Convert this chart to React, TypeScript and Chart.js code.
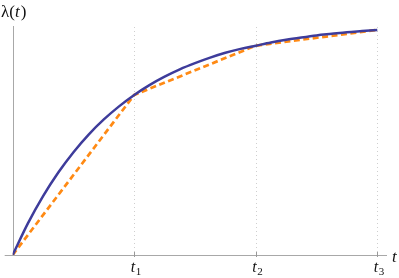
import React, { useEffect, useRef } from "react";
import { Chart, registerables } from "chart.js";

Chart.register(...registerables);

// t in units of the knot spacing (t1 = 1, t2 = 2, t3 = 3)
const curveT = [0, 0.125, 0.25, 0.375, 0.5, 0.625, 0.75, 0.875, 1, 1.125, 1.25, 1.375, 1.5, 1.625, 1.75, 1.875, 2, 2.125, 2.25, 2.375, 2.5, 2.625, 2.75, 2.875, 3];
const curveLambda = [0, 0.138, 0.257, 0.36, 0.449, 0.526, 0.592, 0.649, 0.699, 0.742, 0.779, 0.811, 0.838, 0.862, 0.883, 0.9, 0.914, 0.928, 0.94, 0.95, 0.959, 0.966, 0.973, 0.978, 0.983];
const knotT = [0, 1, 2, 3];
const knotLambda = [0, 0.699, 0.914, 0.983];
const tickValues = [1, 2, 3];
const tickSubs = ["1", "2", "3"];
const yAxisTitle = ["λ(", "t", ")"];
const xAxisTitle = "t";

const BLUE = "rgb(62,60,155)";
const ORANGE = "rgb(255,138,20)";
const AXIS = "#a8a8a8";
const SERIF = "'Liberation Serif', 'Times New Roman', Times, 'DejaVu Serif', serif";

const axesPlugin = {
  id: "mathAxes",
  beforeDatasetsDraw(chart: any) {
    const ctx = chart.ctx;
    const xs = chart.scales.x;
    const ys = chart.scales.y;
    const x0 = xs.getPixelForValue(0);
    const y0 = ys.getPixelForValue(0);
    const yTop = ys.getPixelForValue(1);
    ctx.save();
    // dotted verticals
    ctx.strokeStyle = "#cfcfcf";
    ctx.lineWidth = 1;
    ctx.setLineDash([1, 3]);
    tickValues.forEach((v) => {
      const px = Math.round(xs.getPixelForValue(v)) + 0.5;
      ctx.beginPath();
      ctx.moveTo(px, yTop + 1);
      ctx.lineTo(px, y0);
      ctx.stroke();
    });
    ctx.setLineDash([]);
    // axes
    ctx.strokeStyle = AXIS;
    ctx.beginPath();
    ctx.moveTo(Math.round(x0) + 0.5, yTop);
    ctx.lineTo(Math.round(x0) + 0.5, y0);
    ctx.stroke();
    ctx.beginPath();
    ctx.moveTo(chart.chartArea.left - 8, Math.round(y0) + 0.5);
    ctx.lineTo(chart.chartArea.right, Math.round(y0) + 0.5);
    ctx.stroke();
    // tick marks
    ctx.strokeStyle = "#999";
    tickValues.forEach((v) => {
      const px = Math.round(xs.getPixelForValue(v)) + 0.5;
      ctx.beginPath();
      ctx.moveTo(px, y0 - 3);
      ctx.lineTo(px, y0 + 2);
      ctx.stroke();
    });
    // tick labels
    ctx.fillStyle = "#111";
    ctx.textBaseline = "alphabetic";
    ctx.textAlign = "left";
    tickValues.forEach((v, i) => {
      const px = xs.getPixelForValue(v);
      ctx.font = `italic 16px ${SERIF}`;
      const wt = ctx.measureText("t").width;
      ctx.fillText("t", px - wt + 1, y0 + 17);
      ctx.font = `11px ${SERIF}`;
      ctx.fillText(tickSubs[i], px + 1.5, y0 + 20);
    });
    // y title
    let cx = 1;
    yAxisTitle.forEach((p, i) => {
      ctx.font = i === 1 ? `italic 17px ${SERIF}` : `17px ${SERIF}`;
      ctx.fillText(p, cx, 17);
      cx += ctx.measureText(p).width + (i === 1 ? 1 : 0);
    });
    // x title
    ctx.font = `italic 17px ${SERIF}`;
    ctx.fillText(xAxisTitle, chart.chartArea.right + 5, y0 + 7);
    ctx.restore();
  },
};

export default function App() {
  const ref = useRef<HTMLCanvasElement>(null);
  useEffect(() => {
    document.body.style.margin = "0";
    const chart = new Chart(ref.current!, {
      type: "scatter",
      data: {
        datasets: [
          {
            data: curveT.map((t, i) => ({ x: t, y: curveLambda[i] })),
            showLine: true,
            borderColor: BLUE,
            borderWidth: 2.5,
            pointRadius: 0,
            cubicInterpolationMode: "monotone",
          },
          {
            data: knotT.map((t, i) => ({ x: t, y: knotLambda[i] })),
            showLine: true,
            borderColor: ORANGE,
            borderWidth: 2.7,
            borderDash: [6, 3.5],
            pointRadius: 0,
          },
        ],
      },
      options: {
        responsive: false,
        animation: false,
        layout: { padding: { left: 12.7, right: 12, top: 26, bottom: 23 } },
        scales: {
          x: { type: "linear", min: 0, max: 3.08, display: false },
          y: { type: "linear", min: 0, max: 1, display: false },
        },
        plugins: { legend: { display: false }, tooltip: { enabled: false } },
      },
      plugins: [axesPlugin],
    } as any);
    return () => chart.destroy();
  }, []);
  return <canvas ref={ref} width={399} height={278} style={{ display: "block" }} />;
}
